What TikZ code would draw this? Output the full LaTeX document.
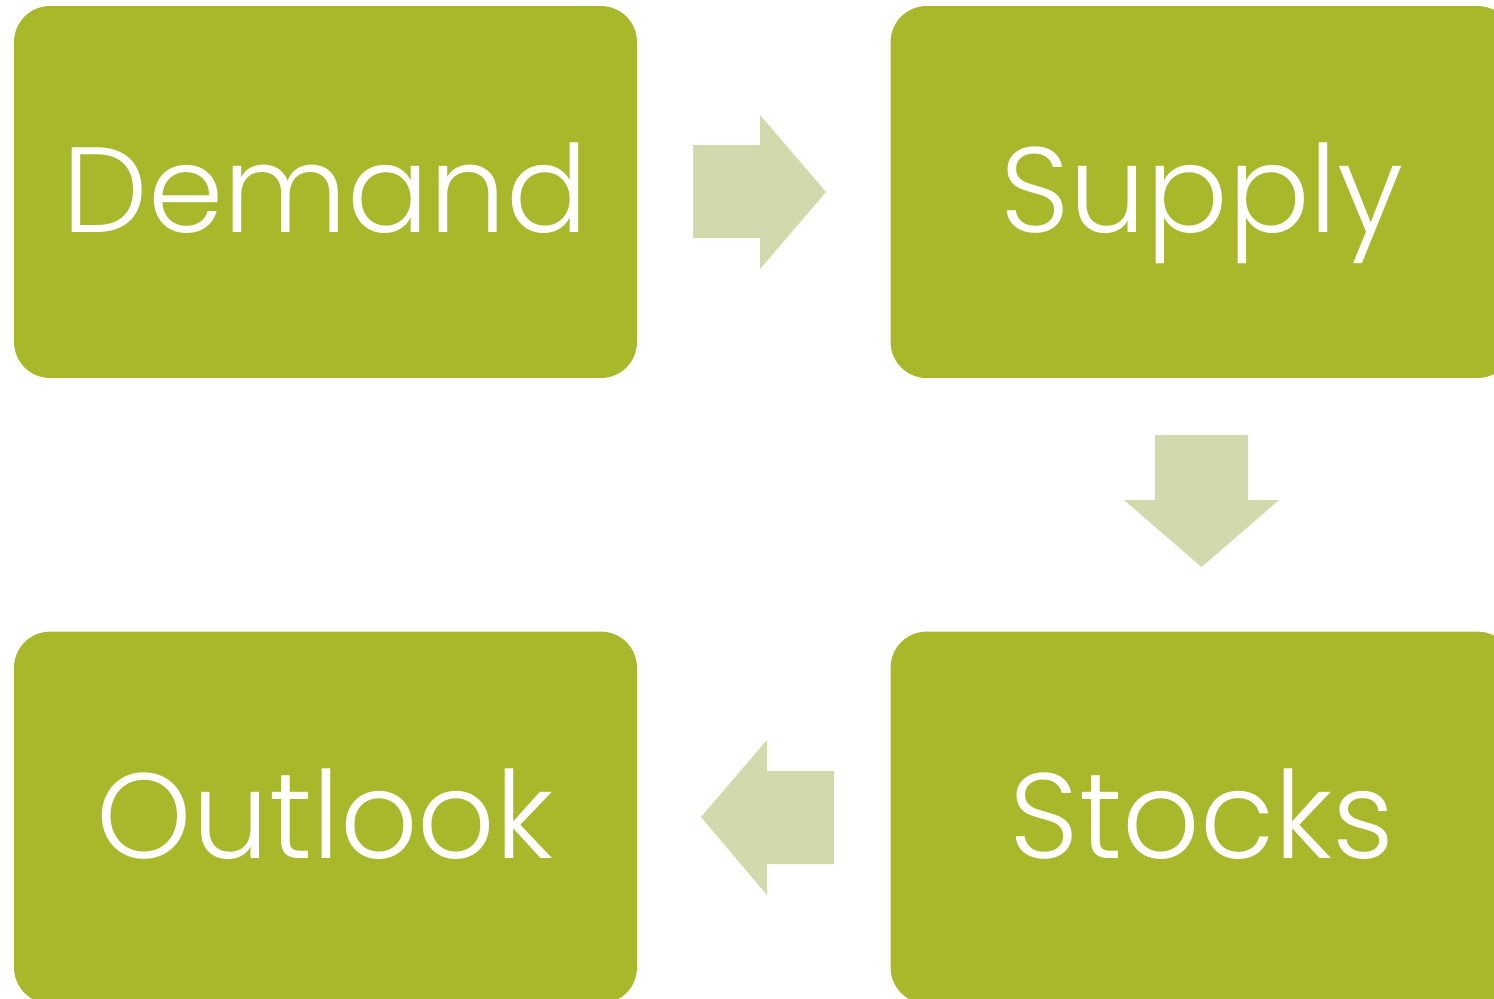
\documentclass[tikz,border=0pt]{standalone}
\usepackage{fontspec}
\setmainfont{Poppins}[UprightFont=* Light]
\usetikzlibrary{positioning}
\definecolor{boxgreen}{RGB}{168,184,42}
\definecolor{arrowgreen}{RGB}{210,217,173}

\begin{document}
\begin{tikzpicture}[x=0.02cm,y=-0.02cm,node distance=5.06cm,
  box/.style={fill=boxgreen,rounded corners=0.72cm,minimum width=12.46cm,minimum height=7.44cm,inner sep=0pt,
    text=white,font=\fontsize{69}{80}\selectfont,text height=1.64cm,text depth=0pt}]
  \useasboundingbox (0,0) rectangle (1494,998);

  \node[box] (demand) at (325.5,192) {Demand};
  \node[box,right=of demand] (supply) {Supply};
  \node[box,below=of supply] (stocks) {Stocks};
  \node[box,left=of stocks] (outlook) {Outlook};

  % block arrows
  \fill[arrowgreen] (693,145) -- (760,145) -- (760,115) -- (826,192) -- (760,269) -- (760,238) -- (693,238) -- cycle;
  \fill[arrowgreen] (1155,435) -- (1248,435) -- (1248,500) -- (1279,500) -- (1201.5,567) -- (1124,500) -- (1155,500) -- cycle;
  \fill[arrowgreen] (834,771) -- (767,771) -- (767,740) -- (701,817) -- (767,895) -- (767,864) -- (834,864) -- cycle;
\end{tikzpicture}
\end{document}
